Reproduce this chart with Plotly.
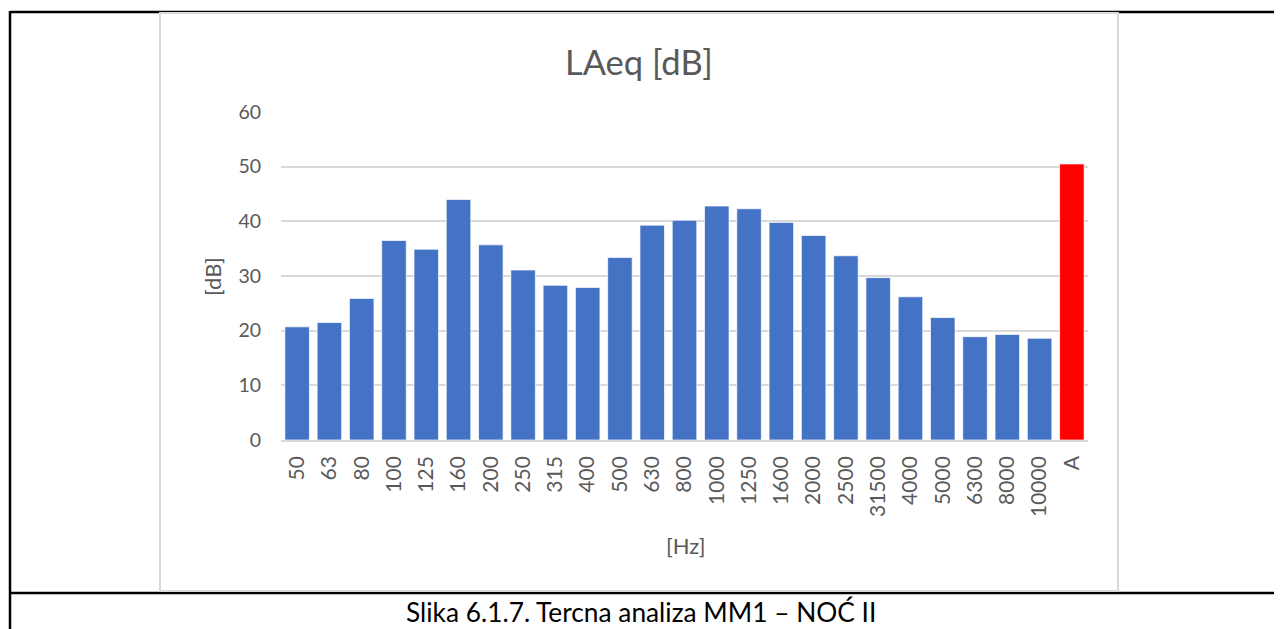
import plotly.graph_objects as go

W, H = 1282, 629

categories = ["50", "63", "80", "100", "125", "160", "200", "250", "315", "400", "500",
              "630", "800", "1000", "1250", "1600", "2000", "2500", "31500", "4000",
              "5000", "6300", "8000", "10000", "A"]
values = [20.7, 21.5, 25.9, 36.5, 34.9, 44.0, 35.7, 31.1, 28.3, 27.9, 33.4,
          39.3, 40.2, 42.8, 42.3, 39.8, 37.4, 33.7, 29.7, 26.2,
          22.4, 18.9, 19.3, 18.6, 50.5]
bar_colors = ["#4472C4"] * 24 + ["#FF0000"]

title_text = "LAeq [dB]"
x_title = "[Hz]"
y_title = "[dB]"
caption = "Slika 6.1.7. Tercna analiza MM1 – NOĆ II"

FONT = "Lato"
GREY = "#595959"

# the page places the figure 8px in from the top-left corner (body margin)
OX, OY = 8, 8

def px(x):
    return (x - OX) / W

def py(y):
    return 1 - (y - OY) / H

# plot area in screen pixels
PL, PR, PT, PB = 281, 1088, 112, 440

fig = go.Figure(go.Bar(
    x=categories, y=values,
    marker=dict(color=bar_colors, line=dict(color="rgba(255,255,255,0.7)", width=1)),
))

shapes = [
    dict(type="line", xref="paper", yref="paper", x0=px(10), x1=1, y0=py(12), y1=py(12),
         line=dict(color="black", width=2.5), layer="below"),
    dict(type="line", xref="paper", yref="paper", x0=px(10), x1=1, y0=py(593), y1=py(593),
         line=dict(color="black", width=2.5), layer="below"),
    dict(type="line", xref="paper", yref="paper", x0=px(10), x1=px(10), y0=py(11), y1=0,
         line=dict(color="black", width=2.5), layer="below"),
    dict(type="rect", xref="paper", yref="paper", x0=px(160), x1=px(1118), y0=py(13), y1=py(591),
         line=dict(color="#d9d9d9", width=2), fillcolor="white", layer="below"),
]

annotations = [
    dict(text=title_text, x=px(639), y=py(62), xref="paper", yref="paper", showarrow=False,
         xanchor="center", yanchor="middle", font=dict(family=FONT, size=34.5, color=GREY)),
    dict(text=x_title, x=px(685), y=py(545), xref="paper", yref="paper", showarrow=False,
         xanchor="center", yanchor="middle", font=dict(family=FONT, size=22, color=GREY)),
    dict(text=y_title, x=px(212), y=py(277), xref="paper", yref="paper", showarrow=False,
         textangle=-90, xanchor="center", yanchor="middle", font=dict(family=FONT, size=22, color=GREY)),
    dict(text=caption, x=px(641), y=py(612), xref="paper", yref="paper", showarrow=False,
         xanchor="center", yanchor="middle", font=dict(family=FONT, size=26.3, color="black")),
]

fig.update_layout(
    template="none",
    width=W, height=H,
    autosize=False,
    margin=dict(l=0, r=0, t=0, b=0, pad=0, autoexpand=False),
    paper_bgcolor="white",
    plot_bgcolor="rgba(0,0,0,0)",
    showlegend=False,
    bargap=0.24,
    shapes=shapes,
    annotations=annotations,
    font=dict(family=FONT, color=GREY),
    xaxis=dict(domain=[px(PL), px(PR)], type="category", tickangle=-90, automargin=False,
               tickfont=dict(family=FONT, size=21, color=GREY),
               showgrid=False, showline=True, linecolor="#d9d9d9", linewidth=1.5,
               ticks="", ticklabelstandoff=6, fixedrange=True),
    yaxis=dict(domain=[py(PB), py(PT)], range=[0, 60], dtick=10, automargin=False,
               tickfont=dict(family=FONT, size=19.5, color=GREY),
               showgrid=True, gridcolor="#d9d9d9", gridwidth=1.5,
               zeroline=False, showline=False, ticks="", ticklabelstandoff=19, fixedrange=True),
)

fig.write_html("out.html")
